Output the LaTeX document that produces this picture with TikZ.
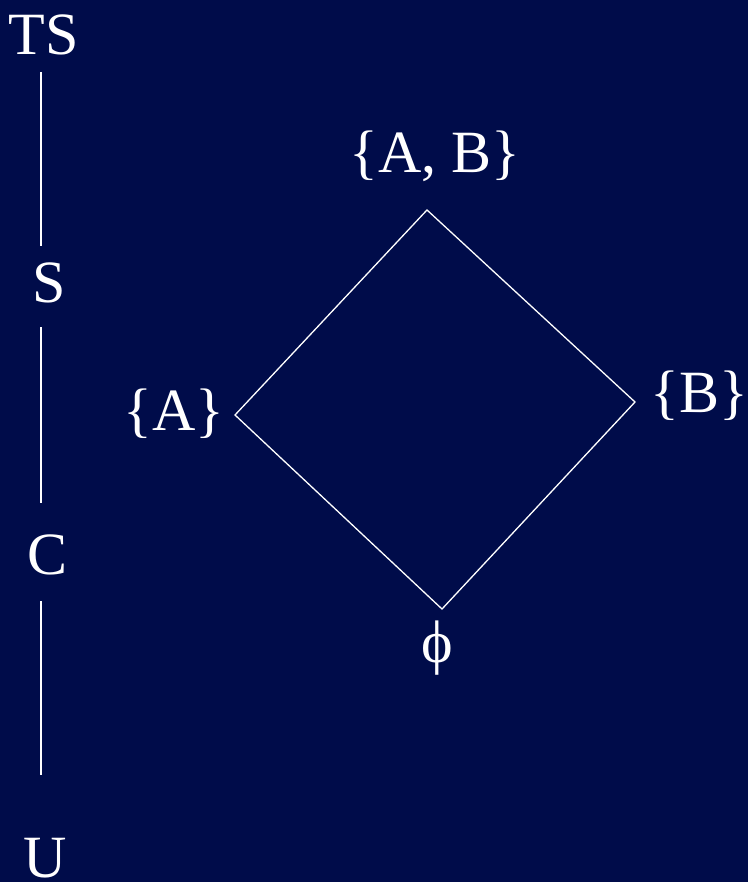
\documentclass[tikz,border=0pt]{standalone}
\usepackage{fontspec}
\setmainfont{Liberation Serif}
\definecolor{bgnavy}{HTML}{000C4A}
\begin{document}
\begin{tikzpicture}[x=1pt,y=-1pt,
  lbl/.style={text=white,font=\fontsize{60}{62}\selectfont,anchor=base,inner sep=0pt},
  edge/.style={draw=white,line width=1.3pt}]
\fill[bgnavy] (0,0) rectangle (748,882);
\useasboundingbox (0,0) rectangle (748,882);
% chain labels
\node[lbl] (ts) at (44,55) {TS};
\node[lbl] (s) at (49,302) {S};
\node[lbl] (c) at (48,574) {C};
\node[lbl] (u) at (45,877) {U};
\coordinate (l1a) at (41,72);  \coordinate (l1b) at (41,246);
\coordinate (l2a) at (41,327); \coordinate (l2b) at (41,503);
\coordinate (l3a) at (41,601); \coordinate (l3b) at (41,775);
\draw[edge] (l1a) -- (l1b);
\draw[edge] (l2a) -- (l2b);
\draw[edge] (l3a) -- (l3b);
% lattice labels
\node[lbl] (ab) at (435,173) {\{A, B\}};
\node[lbl] (a) at (174,430) {\{A\}};
\node[lbl] (b) at (699,412) {\{B\}};
\node[lbl] (e) at (437,662) {ϕ};
% diamond
\coordinate (top) at (427,210);
\coordinate (left) at (235,415);
\coordinate (right) at (635,402);
\coordinate (bot) at (442,609);
\draw[edge,line join=miter] (top) -- (right) -- (bot) -- (left) -- cycle;
\end{tikzpicture}
\end{document}
